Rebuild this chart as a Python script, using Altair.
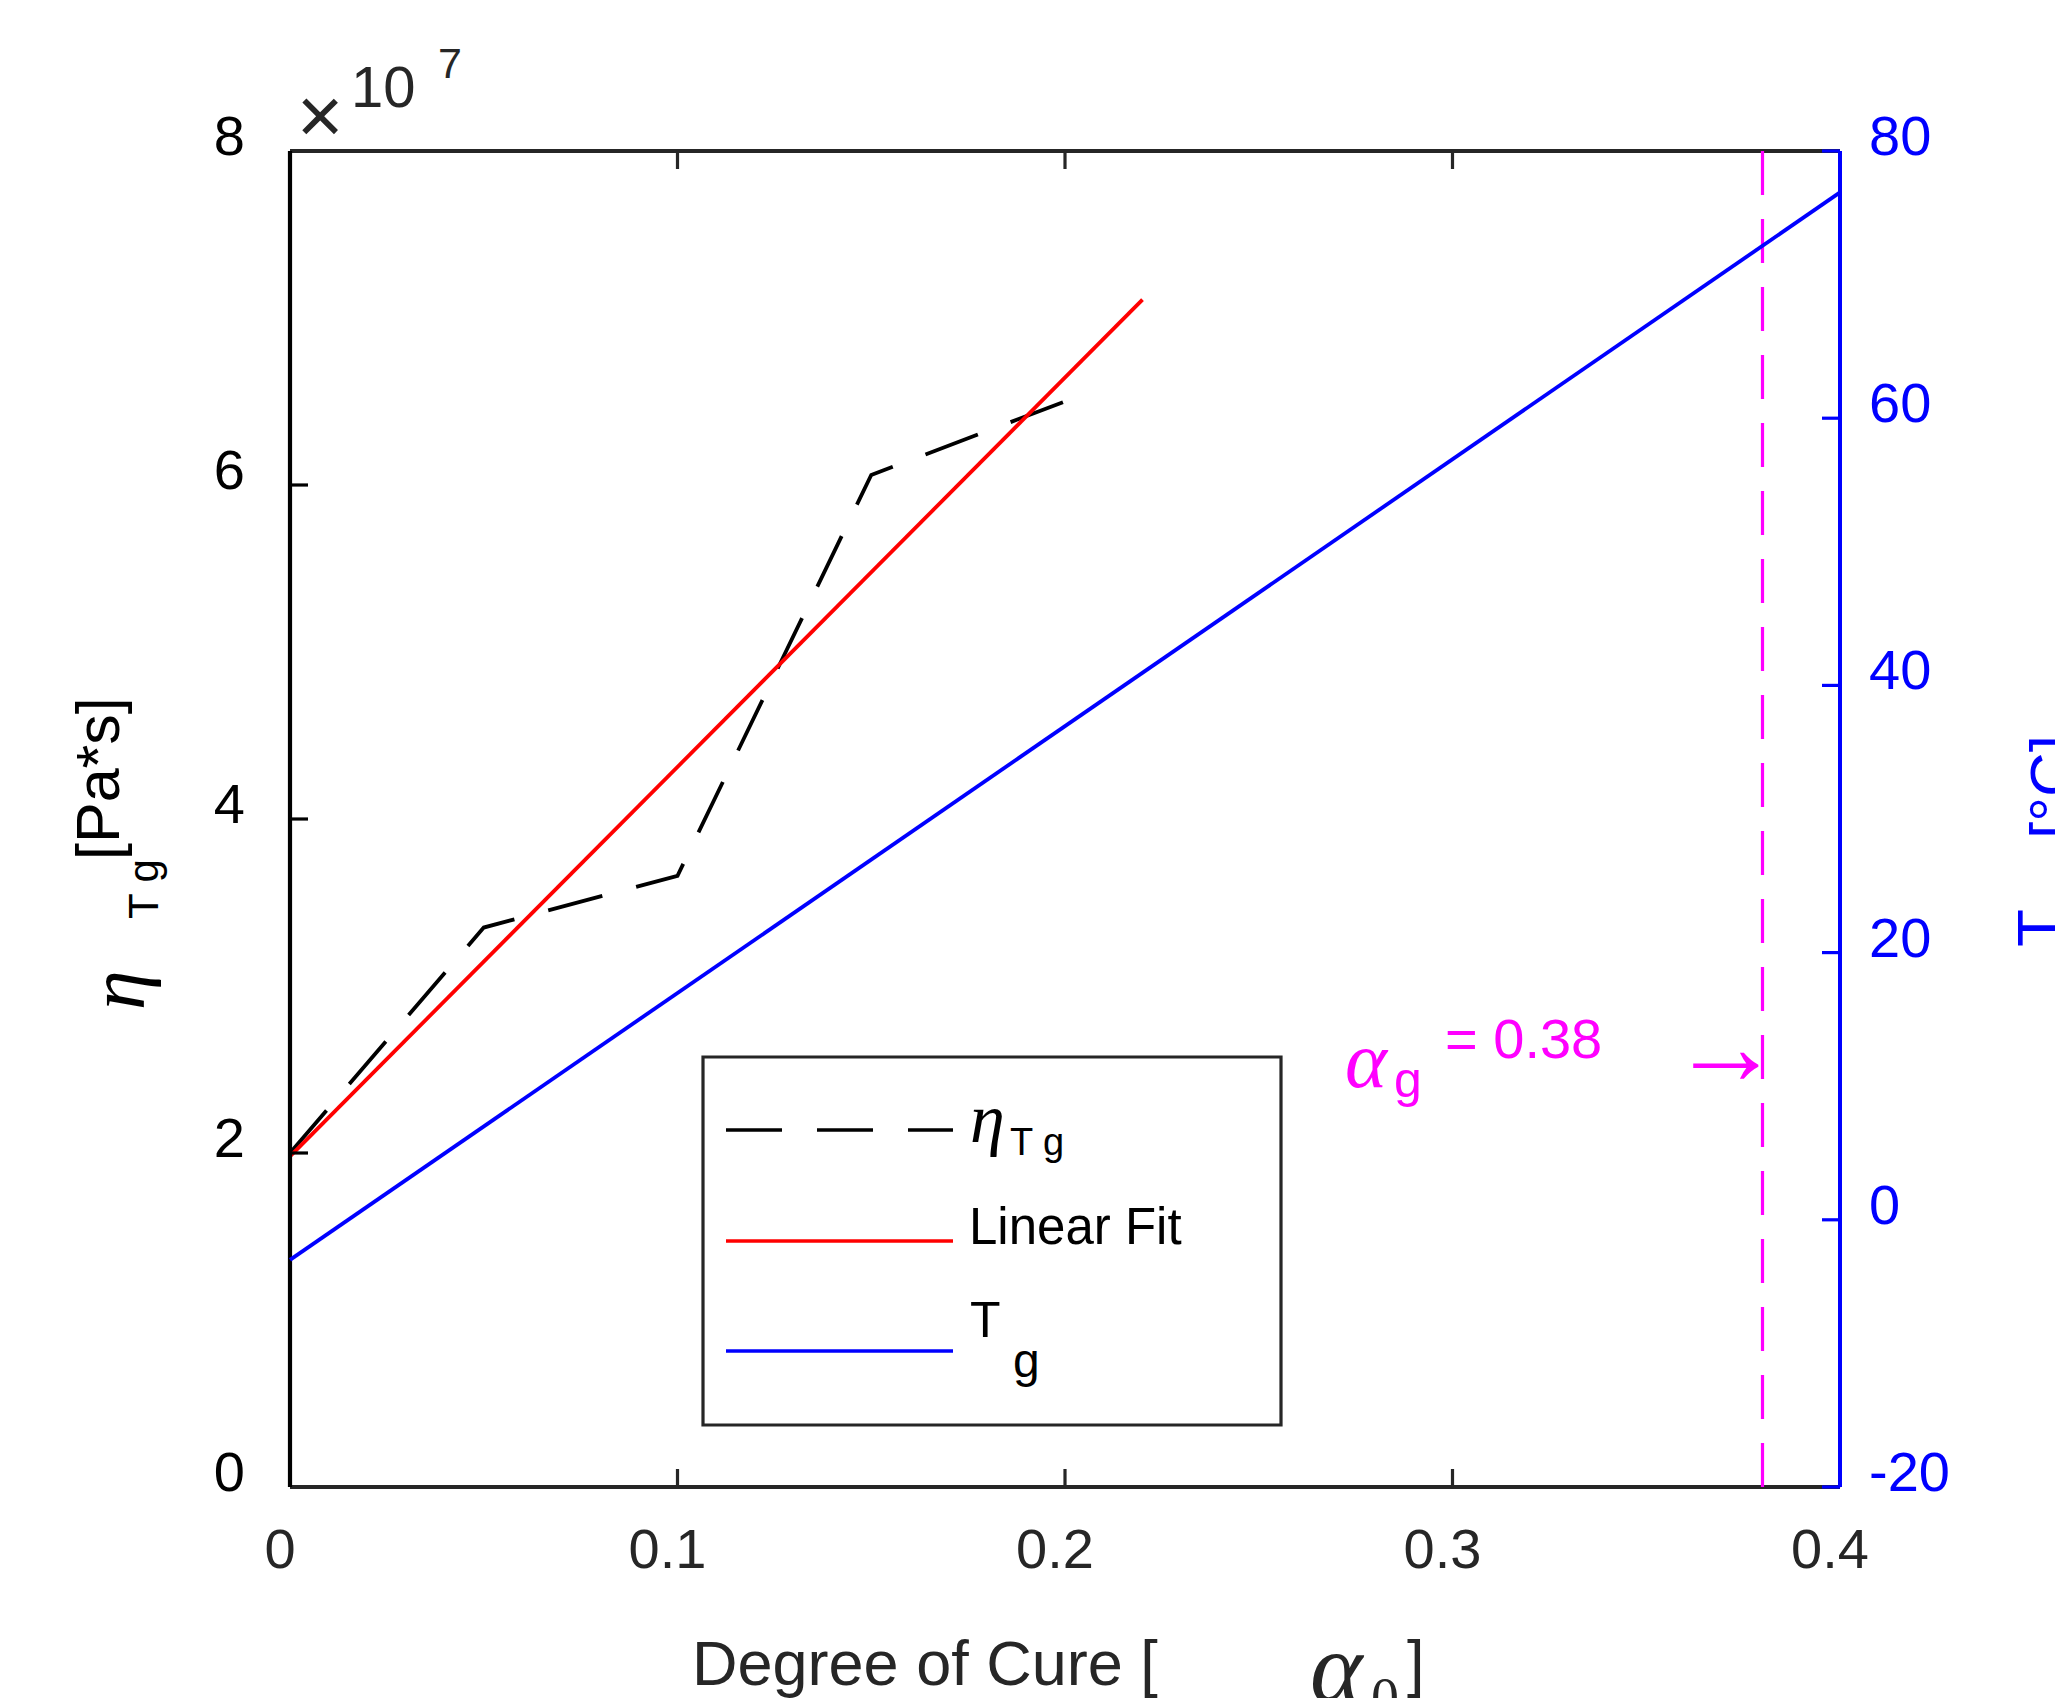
import altair as alt
import pandas as pd

# ---------------- data ----------------
alpha_eta = [0.0, 0.05, 0.10, 0.15, 0.20]
eta_tg = [2.0, 3.35, 3.66, 6.06, 6.50]          # x 10^7 Pa*s
fit_alpha = [0.0, 0.22]
fit_eta = [1.98, 7.11]
tg_alpha = [0.0, 0.40]
tg_temp = [-3.0, 76.9]                           # deg C
alpha_g = [0.38]

x_ticks = [0, 0.1, 0.2, 0.3, 0.4]
y_left_ticks = [0, 2, 4, 6, 8]
y_right_ticks = [-20, 0, 20, 40, 60, 80]

# ---------------- layout constants ----------------
W, H = 1550, 1336
SANS = "Liberation Sans"
SERIF = "Liberation Serif"
DARK = "#262626"
BLUE = "#0000FF"
RED = "#FF0000"
MAG = "#FF00FF"
TL = 18  # tick length

eta_df = pd.DataFrame({"alpha": alpha_eta, "eta": eta_tg})
fit_df = pd.DataFrame({"alpha": fit_alpha, "eta": fit_eta})
tg_df = pd.DataFrame({"alpha": tg_alpha, "T": tg_temp})
ag_df = pd.DataFrame({"a": alpha_g})
xt_df = pd.DataFrame({"v": x_ticks})
ylt_df = pd.DataFrame({"v": y_left_ticks})
yrt_df = pd.DataFrame({"v": y_right_ticks, "lab": [str(v) for v in y_right_ticks]})
one = pd.DataFrame({"k": [0]})

xs = alt.Scale(domain=[0, 0.4], nice=False, zero=False)
yl = alt.Scale(domain=[0, 8], nice=False, zero=False)
yr = alt.Scale(domain=[-20, 80], nice=False, zero=False)


def label(text, x, y, size, font=SANS, style="normal", color="black",
          align="left", baseline="alphabetic", angle=0):
    return alt.Chart(one).mark_text(
        text=text, font=font, fontSize=size, fontStyle=style, color=color,
        align=align, baseline=baseline, angle=angle
    ).encode(x=alt.value(x), y=alt.value(y))


def hline(x1, x2, y, color, width=3.5, dash=None):
    kw = dict(color=color, strokeWidth=width)
    if dash:
        kw["strokeDash"] = dash
    return alt.Chart(one).mark_rule(**kw).encode(
        x=alt.value(x1), x2=alt.value(x2), y=alt.value(y))


def vline(x, y1, y2, color, width=4):
    return alt.Chart(one).mark_rule(color=color, strokeWidth=width).encode(
        x=alt.value(x), y=alt.value(y1), y2=alt.value(y2))


# ---------------- left-scale group ----------------
eta_line = alt.Chart(eta_df).mark_line(color="black", strokeWidth=3.8, strokeDash=[56, 35]).encode(
    x=alt.X("alpha:Q", scale=xs, axis=None),
    y=alt.Y("eta:Q", scale=yl, axis=None),
)
fit_line = alt.Chart(fit_df).mark_line(color=RED, strokeWidth=3.8).encode(
    x=alt.X("alpha:Q", scale=xs, axis=None),
    y=alt.Y("eta:Q", scale=yl, axis=None),
)
left_ticks = alt.Chart(ylt_df).mark_rule(color="black", strokeWidth=3.2).encode(
    y=alt.Y("v:Q", scale=yl, axis=None), x=alt.value(0), x2=alt.value(TL))
left_labels = alt.Chart(ylt_df).mark_text(
    font=SANS, fontSize=56, color="black", align="right", baseline="middle", dy=-13
).encode(y=alt.Y("v:Q", scale=yl, axis=None), x=alt.value(-45), text=alt.Text("v:Q"))
bottom_ticks = alt.Chart(xt_df).mark_rule(color=DARK, strokeWidth=3.2).encode(
    x=alt.X("v:Q", scale=xs, axis=None), y=alt.value(H), y2=alt.value(H - TL))
top_ticks = alt.Chart(xt_df).mark_rule(color=DARK, strokeWidth=3.2).encode(
    x=alt.X("v:Q", scale=xs, axis=None), y=alt.value(0), y2=alt.value(TL))
x_labels = alt.Chart(xt_df).mark_text(
    font=SANS, fontSize=56, color=DARK, align="center", baseline="top", dx=-10
).encode(x=alt.X("v:Q", scale=xs, axis=None), y=alt.value(H + 37),
         text=alt.Text("v:Q", format=".1~f"))
top_border = hline(0, W, 0, DARK, width=4)
bottom_border = hline(0, W, H, DARK, width=4)
left_border = vline(0, 0, H, "black", width=4.2)
ag_rule = alt.Chart(ag_df).mark_rule(color=MAG, strokeWidth=3.2, strokeDash=[44, 24]).encode(
    x=alt.X("a:Q", scale=xs, axis=None), y=alt.value(H), y2=alt.value(0))

left_group = alt.layer(eta_line, fit_line, left_ticks, left_labels, bottom_ticks, top_ticks,
                       x_labels, top_border, bottom_border, left_border, ag_rule)

# ---------------- right-scale group ----------------
tg_line = alt.Chart(tg_df).mark_line(color=BLUE, strokeWidth=3.8).encode(
    x=alt.X("alpha:Q", scale=xs, axis=None),
    y=alt.Y("T:Q", scale=yr, axis=None),
)
right_ticks = alt.Chart(yrt_df).mark_rule(color=BLUE, strokeWidth=3.2).encode(
    y=alt.Y("v:Q", scale=yr, axis=None), x=alt.value(W), x2=alt.value(W - TL))
right_labels = alt.Chart(yrt_df).mark_text(
    font=SANS, fontSize=56, color=BLUE, align="left", baseline="middle", dy=-13
).encode(y=alt.Y("v:Q", scale=yr, axis=None), x=alt.value(W + 29), text="lab:N")
right_border = vline(W, 0, H, BLUE, width=4)

# legend
legend_box = alt.Chart(one).mark_rect(fill="white", stroke=DARK, strokeWidth=3.2).encode(
    x=alt.value(413), x2=alt.value(991), y=alt.value(906), y2=alt.value(1274))
leg_eta = hline(436, 663, 979, "black", dash=[56, 35])
leg_fit = hline(436, 663, 1090, RED)
leg_tg = hline(436, 663, 1200, BLUE)

texts = [
    # x10^7 exponent
    label("×", 30, -8, 80, color=DARK, align="center"),
    label("10", 61, -44, 58, color=DARK),
    label("7", 148, -73, 43, color=DARK),
    # left y title (rotated)
    label("η", -146, 859, 80, font=SERIF, style="italic", angle=270),
    label("T g", -132, 768, 42, angle=270),
    label("[Pa*s]", -171, 709, 61, angle=270),
    # right y title (rotated)
    label("T", 1770, 796, 62, color=BLUE, angle=270),
    label("[°C]", 1783, 688, 62, color=BLUE, angle=270),
    # x title
    label("Degree of Cure [", 402, 1534, 63, color=DARK),
    label("α", 1020, 1550, 100, font=SERIF, style="italic", color=DARK),
    label("0", 1081, 1566, 56, font=SERIF, color=DARK),
    label("]", 1117, 1534, 63, color=DARK),
    # alpha_g annotation
    label("α", 1055, 936, 80, font=SERIF, style="italic", color=MAG),
    label("g", 1104, 946, 50, color=MAG),
    label("= 0.38", 1155, 907, 56, color=MAG),
    label("→", 1381, 933, 110, font=SERIF, color=MAG),
    # legend labels
    label("η", 680, 991, 70, font=SERIF, style="italic"),
    label("T g", 720, 1004, 38),
    label("Linear Fit", 679, 1093, 51),
    label("T", 680, 1186, 50),
    label("g", 723, 1226, 48),
]

right_group = alt.layer(tg_line, right_ticks, right_labels, right_border,
                        legend_box, leg_eta, leg_fit, leg_tg, *texts)

chart = alt.layer(left_group, right_group).resolve_scale(y="independent").properties(
    width=W, height=H,
    padding={"left": 282, "top": 143, "right": 215, "bottom": 211},
    autosize=alt.AutoSizeParams(type="none"),
).configure_view(strokeWidth=0).configure(font=SANS)

chart.save("out.html", embed_options={"renderer": "svg", "actions": False})
